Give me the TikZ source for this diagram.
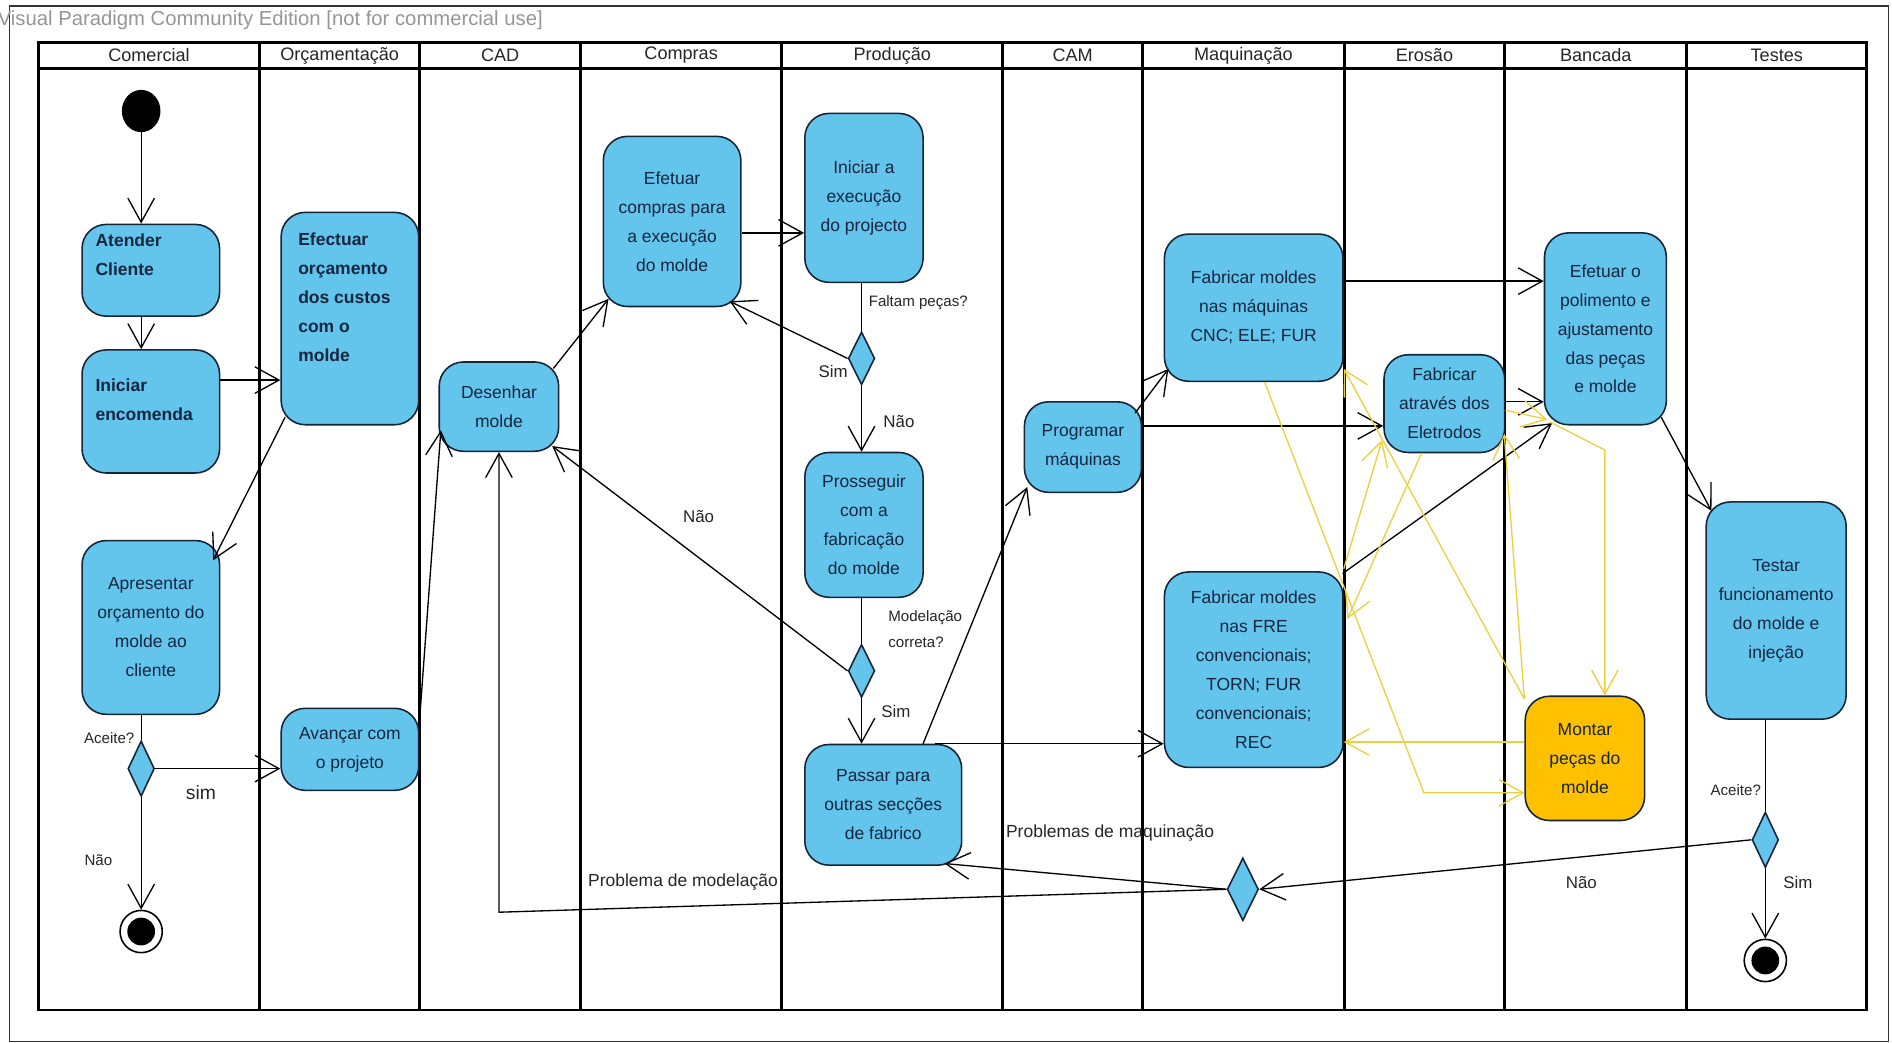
\documentclass[tikz,border=0pt]{standalone}
\usepackage{fontspec}
\setmainfont{Liberation Sans}
\usetikzlibrary{arrows.meta,calc,shapes.geometric}
\definecolor{actblue}{RGB}{99,196,236}
\definecolor{actorange}{RGB}{255,192,0}
\definecolor{bordc}{RGB}{22,36,56}
\definecolor{txtc}{RGB}{20,38,64}
\definecolor{ylw}{RGB}{236,208,64}
\definecolor{wmgray}{RGB}{150,150,150}
\begin{document}
\begin{tikzpicture}[x=1pt,y=-1pt,
  act/.style={draw=bordc, fill=actblue, line width=1.3pt, rounded corners=20pt, inner sep=0pt, align=center, text=txtc, font=\fontsize{14.5}{24}\selectfont},
  bt/.style={inner sep=0pt, align=left, text=txtc, font=\fontsize{14.5}{24}\selectfont\bfseries, anchor=west},
  dec/.style={diamond, draw=bordc, fill=actblue, line width=1.3pt, inner sep=0pt, minimum width=22pt, minimum height=46pt},
  lanehead/.style={font=\fontsize{15}{18}\selectfont, text=black!85, inner sep=0pt},
  lbl/.style={font=\fontsize{14}{16}\selectfont, text=black!85, inner sep=0pt},
  slbl/.style={font=\fontsize{12.5}{21}\selectfont, text=black!85, inner sep=0pt, align=left},
  arr/.style={line width=1.1pt, -{Straight Barb[length=20pt,width=22pt,line width=1.1pt]}},
  yarr/.style={draw=ylw, line width=1.1pt, -{Straight Barb[length=20pt,width=22pt,line width=1.1pt]}},
  plain/.style={line width=1.1pt},
  lane/.style={line width=2.4pt},
]
\useasboundingbox (0,0) rectangle (1568,864);
\fill[white] (0,0) rectangle (1568,864);
% outer frame and watermark
\draw[line width=0.9pt, black!80] (7.5,5) rectangle (1565,863);
\node[anchor=west, text=wmgray, font=\fontsize{16.8}{18}\selectfont, inner sep=0pt] (wm) at (-2,17) {Visual Paradigm Community Edition [not for commercial use]};
% swimlanes
\draw[lane] (32,35) rectangle (1547,837);
\draw[lane] (32,57) -- (1547,57);
\foreach \x in {215,348,481,648,831,947,1114,1247,1398} \draw[lane] (\x,35) -- (\x,837);
\node[lanehead] (h1) at (123.5,46) {Comercial};
\node[lanehead] (h2) at (281.5,46) {Orçamentação};
\node[lanehead] (h3) at (414.5,46) {CAD};
\node[lanehead] (h4) at (564.5,46) {Compras};
\node[lanehead] (h5) at (739.5,46) {Produção};
\node[lanehead] (h6) at (889,46) {CAM};
\node[lanehead] (h7) at (1030.5,46) {Maquinação};
\node[lanehead] (h8) at (1180.5,46) {Erosão};
\node[lanehead] (h9) at (1322.5,46) {Bancada};
\node[lanehead] (h10) at (1472.5,46) {Testes};
% Comercial
\node[ellipse, fill=black, minimum width=32pt, minimum height=35pt, inner sep=0pt] (init) at (117,92) {};
\node[act, minimum width=114pt, minimum height=76pt] (atender) at (125,224) {};
\node[bt] (atenderT) at (79,211.5) {Atender\\Cliente};
\node[act, minimum width=114pt, minimum height=102pt] (iniciar) at (125,341) {};
\node[bt] (iniciarT) at (79,331.5) {Iniciar\\encomenda};
\node[act, minimum width=114pt, minimum height=144pt] (apres) at (125,520) {Apresentar\\orçamento do\\molde ao\\cliente};
\node[dec] (d1) at (117,637) {};
\node[circle, draw=black, fill=white, line width=1.3pt, minimum size=35pt, inner sep=0pt] (end1) at (117,772) {};
\node[circle, fill=black, minimum size=23pt, inner sep=0pt] (end1in) at (end1) {};
% Orcamentacao
\node[act, minimum width=114pt, minimum height=176pt] (orc) at (290,264) {};
\node[bt] (orcT) at (247,246.5) {Efectuar\\orçamento\\dos custos\\com o\\molde};
\node[act, minimum width=114pt, minimum height=68pt] (avancar) at (290,621) {Avançar com\\o projeto};
% CAD
\node[act, minimum width=99pt, minimum height=74pt] (desenhar) at (413.5,337) {Desenhar\\molde};
% Compras
\node[act, minimum width=114pt, minimum height=141pt] (compras) at (557,183.5) {Efetuar\\compras para\\a execução\\do molde};
% Producao
\node[act, minimum width=98pt, minimum height=140pt] (iniexec) at (716,164) {Iniciar a\\execução\\do projecto};
\node[dec, minimum height=44pt] (d2) at (714,297) {};
\node[act, minimum width=98pt, minimum height=120pt] (prosseguir) at (716,435) {Prosseguir\\com a\\fabricação\\do molde};
\node[dec, minimum height=44pt] (d3) at (714,556) {};
\node[act, minimum width=130pt, minimum height=100pt] (passar) at (732,667) {Passar para\\outras secções\\de fabrico};
% CAM
\node[act, minimum width=97pt, minimum height=75pt] (programar) at (897.5,370.5) {Programar\\máquinas};
% Maquinacao
\node[act, minimum width=148pt, minimum height=122pt] (cnc) at (1039,255) {Fabricar moldes\\nas máquinas\\CNC; ELE; FUR};
\node[act, minimum width=148pt, minimum height=162pt] (fre) at (1039,555) {Fabricar moldes\\nas FRE\\convencionais;\\TORN; FUR\\convencionais;\\REC};
\node[dec, minimum width=26pt, minimum height=52pt] (d4) at (1030,737) {};
% Erosao
\node[act, minimum width=100pt, minimum height=81pt] (eletro) at (1197,334.5) {Fabricar\\através dos\\Eletrodos};
% Bancada
\node[act, minimum width=101pt, minimum height=159pt] (polim) at (1330.5,272.5) {Efetuar o\\polimento e\\ajustamento\\das peças\\e molde};
\node[act, fill=actorange, minimum width=99pt, minimum height=103pt] (montar) at (1313.5,628.5) {Montar\\peças do\\molde};
% Testes
\node[act, minimum width=116pt, minimum height=180pt] (testar) at (1472,506) {Testar\\funcionamento\\do molde e\\injeção};
\node[dec] (d5) at (1463,696) {};
\node[circle, draw=black, fill=white, line width=1.3pt, minimum size=35pt, inner sep=0pt] (end2) at (1463,796) {};
\node[circle, fill=black, minimum size=23pt, inner sep=0pt] (end2in) at (end2) {};
% labels
\node[slbl] (lAceite1) at (90.5,612) {Aceite?};
\node[lbl, font=\fontsize{16}{18}\selectfont] (lsim) at (166.5,657) {sim};
\node[slbl] (lNao1) at (81.5,713) {Não};
\node[slbl] (lFaltam) at (761,251) {Faltam peças?};
\node[lbl] (lSim1) at (690.5,308) {Sim};
\node[lbl] (lNao2) at (745,349.5) {Não};
\node[lbl] (lNao3) at (579,428) {Não};
\node[slbl, anchor=west] (lModel) at (736,521.5) {Modelação\\correta?};
\node[lbl] (lSim2) at (742.5,590) {Sim};
\node[lbl, font=\fontsize{14.5}{16}\selectfont] (lProbMaq) at (920,690.5) {Problemas de maquinação};
\node[lbl, font=\fontsize{14.5}{16}\selectfont] (lProbMod) at (566,731) {Problema de modelação};
\node[slbl] (lAceite2) at (1438.5,655) {Aceite?};
\node[lbl] (lNao4) at (1310.5,731) {Não};
\node[lbl] (lSim3) at (1490,731) {Sim};
% black connectors
\draw[arr] (init.south) -- (init.south |- atender.north);
\draw[arr] (init.south |- atender.south) -- (init.south |- iniciar.north);
\draw[arr] (iniciar.east |- 0,315) -- (orc.west |- 0,315);
\draw[arr] ($(orc.south west)+(4,-7)$) -- ($(apres.north east)+(-6,17)$);
\draw[plain] (d1.north |- apres.south) -- (d1.north);
\draw[arr] (d1.east) -- (avancar.west |- d1.east);
\draw[arr] (d1.south) -- (end1.north);
\draw[arr] ($(avancar.north east)+(0,11)$) -- ($(desenhar.south west)+(2,-18)$);
\draw[arr] ($(desenhar.north east)+(-5,6)$) -- ($(compras.south west)+(5,-7)$);
\draw[arr] (compras.east |- 0,193) -- (iniexec.west |- 0,193);
\draw[plain] (d2.north |- iniexec.south) -- (d2.north);
\draw[arr] (d2.west) -- ($(compras.south east)+(-10,-5)$);
\draw[arr] (d2.south) -- (d2.south |- prosseguir.north);
\draw[plain] (d3.north |- prosseguir.south) -- (d3.north);
\draw[arr] (d3.west) -- ($(desenhar.south east)+(-6,-5)$);
\draw[arr] (d3.south) -- (d3.south |- passar.north);
\draw[arr] (765,0 |- passar.north) -- ($(programar.south west)+(3,-5)$);
\draw[arr] (775,0 |- passar.north) -- (fre.west |- passar.north);
\draw[arr] ($(programar.north east)+(-6,10)$) -- ($(cnc.south west)+(4,-11)$);
\draw[arr] (programar.east |- 0,353) -- (eletro.west |- 0,353);
\draw[arr] (cnc.east |- 0,233) -- (polim.west |- 0,233);
\draw[arr] (eletro.east |- 0,333) -- (polim.west |- 0,333);
\draw[arr] ($(fre.north east)+(-1,2)$) -- ($(polim.south west)+(7,-2)$);
\draw[arr] ($(polim.south east)+(-5,-7)$) -- ($(testar.north west)+(5,8)$);
\draw[plain] (d5.north |- testar.south) -- (d5.north);
\draw[arr] (d5.south) -- (end2.north);
\draw[arr] (d5.west) -- (d4.east);
\draw[arr] (d4.west) -- ($(passar.south east)+(-15,-2)$);
\coordinate (bendA) at (414,756);
\draw[arr] (d4.west) -- (desenhar.south |- bendA) -- (desenhar.south);
% yellow connectors
\coordinate (yA) at (1180,657);
\draw[yarr] (cnc.south -| 1048,0) -- (yA) -- (montar.west |- yA);
\draw[yarr] (montar.west |- 0,615) -- (fre.east |- 0,615);
\coordinate (yC) at (1330,373);
\draw[yarr] ($(polim.south west)+(5,-3)$) -- (yC) -- (yC |- montar.north);
\draw[yarr] ($(montar.north west)+(0,3)$) -- ($(cnc.south east)+(0,-11)$);
\draw[yarr] ($(eletro.south)+(-19,0)$) -- ($(fre.east)+(3,-42)$);
\draw[yarr] ($(fre.north east)+(0,-2)$) -- ($(eletro.south west)+(-1,-11)$);
\draw[yarr] ($(montar.north west)+(0,3)$) -- ($(eletro.south east)+(-1,-16)$);
\draw[yarr] (eletro.east |- 0,340) -- ($(polim.south west)+(3,-5)$);
\end{tikzpicture}
\end{document}
